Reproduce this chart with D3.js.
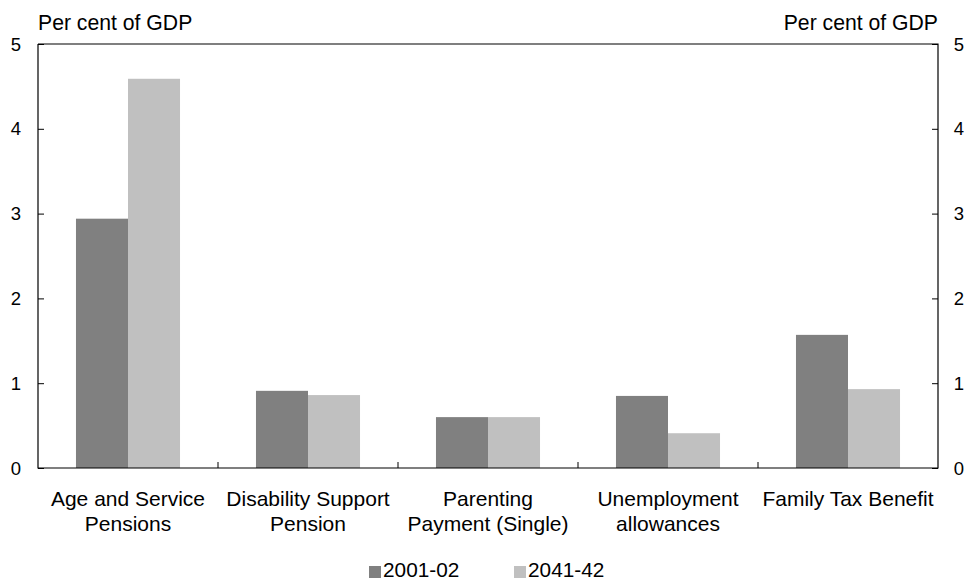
<!DOCTYPE html>
<html>
<head>
<meta charset="utf-8">
<script src="https://cdn.jsdelivr.net/npm/d3@7"></script>
<style>
  body { margin: 0; background: #fff; }
  text { font-family: Arial, "Liberation Sans", sans-serif; fill: #000; }
</style>
</head>
<body>
<svg width="969" height="580"></svg>
<script>
// data
const categories = [
  ["Age and Service", "Pensions"],
  ["Disability Support", "Pension"],
  ["Parenting", "Payment (Single)"],
  ["Unemployment", "allowances"],
  ["Family Tax Benefit"]
];
const seriesNames = ["2001-02", "2041-42"];
const values2001 = [2.94, 0.91, 0.60, 0.85, 1.57];
const values2041 = [4.59, 0.86, 0.60, 0.41, 0.93];
const yTicks = [0, 1, 2, 3, 4, 5];
const colours = ["#808080", "#c0c0c0"];

const plotL = 38, plotR = 938, plotT = 44, plotB = 468;

const svg = d3.select("svg");

const x = d3.scaleBand()
  .domain(d3.range(categories.length))
  .range([plotL, plotR])
  .paddingInner(0)
  .paddingOuter(0);

const inner = d3.scaleBand()
  .domain([0, 1])
  .range([0, x.bandwidth()])
  .paddingOuter(0.73)
  .paddingInner(0);

const y = d3.scaleLinear().domain([0, 5]).range([plotB, plotT]);

// bars
const series = [values2001, values2041];
series.forEach(function(vals, s) {
  svg.append("g").selectAll("rect")
    .data(vals)
    .enter()
    .append("rect")
    .attr("x", (d, i) => x(i) + inner(s))
    .attr("y", d => y(d))
    .attr("width", inner.bandwidth())
    .attr("height", d => y(0) - y(d))
    .attr("fill", colours[s]);
});

// tick marks on left and right axes, pointing inward
const yl = svg.append("g")
  .attr("transform", "translate(" + plotL + ",0)")
  .call(d3.axisRight(y).tickValues(yTicks).tickSize(6).tickFormat(""));
yl.select(".domain").remove();
const yr = svg.append("g")
  .attr("transform", "translate(" + plotR + ",0)")
  .call(d3.axisLeft(y).tickValues(yTicks).tickSize(6).tickFormat(""));
yr.select(".domain").remove();
svg.selectAll(".tick line").attr("stroke", "#000");

// tick labels both sides
yTicks.forEach(function(t) {
  svg.append("text").attr("x", 16).attr("y", y(t) + 6.5)
    .attr("text-anchor", "middle").style("font-size", "18.5px").text(t);
  svg.append("text").attr("x", 959).attr("y", y(t) + 6.5)
    .attr("text-anchor", "middle").style("font-size", "18.5px").text(t);
});

// frame
svg.append("path")
  .attr("d", "M" + plotL + "," + plotT + "V" + plotB + "H" + plotR + "V" + plotT + "H" + plotL)
  .attr("fill", "none").attr("stroke", "#000").attr("stroke-width", 1.2);

// category ticks on x axis
d3.range(1, categories.length).forEach(function(i) {
  svg.append("line")
    .attr("x1", x(i)).attr("x2", x(i))
    .attr("y1", plotB).attr("y2", plotB - 6)
    .attr("stroke", "#000");
});

// category labels
categories.forEach(function(lines, i) {
  const t = svg.append("text")
    .attr("text-anchor", "middle")
    .style("font-size", "21px");
  lines.forEach(function(l, j) {
    t.append("tspan")
      .attr("x", x(i) + x.bandwidth() / 2)
      .attr("y", 506 + j * 25)
      .text(l);
  });
});

// axis titles
svg.append("text").attr("x", 38).attr("y", 30)
  .style("font-size", "21.2px").text("Per cent of GDP");
svg.append("text").attr("x", 938).attr("y", 30)
  .attr("text-anchor", "end").style("font-size", "21.2px").text("Per cent of GDP");

// legend
const legendX = [369, 514];
seriesNames.forEach(function(n, s) {
  svg.append("rect")
    .attr("x", legendX[s]).attr("y", 566)
    .attr("width", 12).attr("height", 12)
    .attr("fill", colours[s]);
  svg.append("text")
    .attr("x", legendX[s] + 14).attr("y", 577)
    .style("font-size", "20.8px").text(n);
});
</script>
</body>
</html>
